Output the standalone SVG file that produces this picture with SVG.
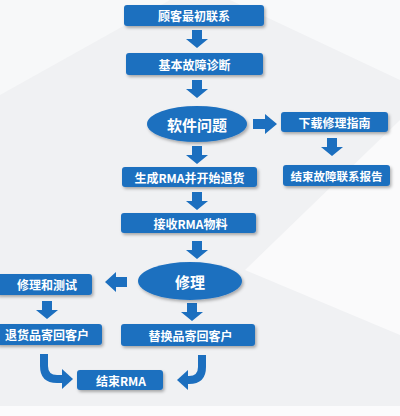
<svg xmlns="http://www.w3.org/2000/svg" width="400" height="416" viewBox="0 0 400 416">
<defs>
<filter id="sh" x="-10%" y="-30%" width="125%" height="170%">
<feDropShadow dx="1.5" dy="2" stdDeviation="1.5" flood-color="#000" flood-opacity="0.3"/>
</filter>
<path id="dn" d="M-5,0 H5 V9 H11 L0,18 L-11,9 H-5 Z"/>
<style>
.box{fill:#1c6fbf;filter:url(#sh)}
.el{fill:#1c6fbf;filter:url(#sh)}
.t{fill:#fff;font-family:"Noto Sans CJK SC","Noto Sans",sans-serif;font-weight:bold;font-size:12px;text-anchor:middle;dominant-baseline:central}
.te{fill:#fff;font-family:"Noto Sans CJK SC","Noto Sans",sans-serif;font-weight:bold;font-size:15px;text-anchor:middle;dominant-baseline:central}
.ar{fill:#1c6fbf}
.cv{fill:none;stroke:#1c6fbf;stroke-width:8}
</style>
</defs>
<rect width="400" height="416" fill="#f0f1f3"/>
<polygon points="0,0 170,0 0,95" fill="#f7f8f9"/>
<polygon points="230,0 400,0 400,80" fill="#f8f9fa"/>
<polygon points="245,270 400,120 400,335" fill="#fafafb"/>
<rect x="0" y="406" width="400" height="10" fill="#fbfbfc"/>

<g id="connectors">
<use href="#dn" class="ar" x="197" y="30"/>
<use href="#dn" class="ar" x="197" y="80"/>
<path class="ar" d="M253,119 H265 V114 L277,124 L265,134 V129 H253 Z"/>
<use href="#dn" class="ar" x="332" y="138"/>
<use href="#dn" class="ar" x="197" y="146"/>
<use href="#dn" class="ar" x="197" y="192"/>
<use href="#dn" class="ar" x="197" y="241"/>
<path class="ar" d="M127,277 H116 V272 L105,282 L116,292 V287 H127 Z"/>
<use href="#dn" class="ar" x="47" y="301"/>
<use href="#dn" class="ar" x="192" y="303"/>
<path class="cv" d="M44,354 V366 Q44,379 57,379 H63"/>
<polygon class="ar" points="62,369 73,379 62,389"/>
<path class="cv" d="M202,355 V367 Q202,380 189,380 H187"/>
<polygon class="ar" points="188,370 177,380 188,390"/>
</g>

<g id="n1"><rect class="box" x="124" y="5" width="140" height="21" rx="3"/><text class="t" x="194" y="15.5">顾客最初联系</text></g>
<g id="n2"><rect class="box" x="126" y="53" width="137" height="22" rx="3"/><text class="t" x="194.5" y="64">基本故障诊断</text></g>
<g id="n3"><ellipse class="el" cx="197" cy="124" rx="50" ry="18"/><text class="te" x="197" y="124">软件问题</text></g>
<g id="n4"><rect class="box" x="281" y="112" width="107" height="20" rx="3"/><text class="t" x="334.5" y="122">下载修理指南</text></g>
<g id="n5"><rect class="box" x="283" y="165" width="107" height="21" rx="3"/><text class="t" x="336.5" y="175.5" style="font-size:11.5px">结束故障联系报告</text></g>
<g id="n6"><rect class="box" x="122" y="167" width="135" height="20" rx="3"/><text class="t" x="189.5" y="177">生成RMA并开始退货</text></g>
<g id="n7"><rect class="box" x="121" y="213" width="135" height="20" rx="3"/><text class="t" x="190.5" y="223">接收RMA物料</text></g>
<g id="n8"><ellipse class="el" cx="190" cy="281" rx="52" ry="19"/><text class="te" x="190" y="281">修理</text></g>
<g id="n9"><rect class="box" x="-4" y="274" width="96" height="21" rx="3"/><text class="t" x="47" y="284.5">修理和测试</text></g>
<g id="n10"><rect class="box" x="-4" y="324" width="106" height="21" rx="3"/><text class="t" x="47" y="334.5">退货品寄回客户</text></g>
<g id="n11"><rect class="box" x="121" y="324" width="134" height="22" rx="3"/><text class="t" x="190.5" y="335">替换品寄回客户</text></g>
<g id="n12"><rect class="box" x="77" y="370" width="86" height="20" rx="3"/><text class="t" x="121" y="380">结束RMA</text></g>
</svg>
